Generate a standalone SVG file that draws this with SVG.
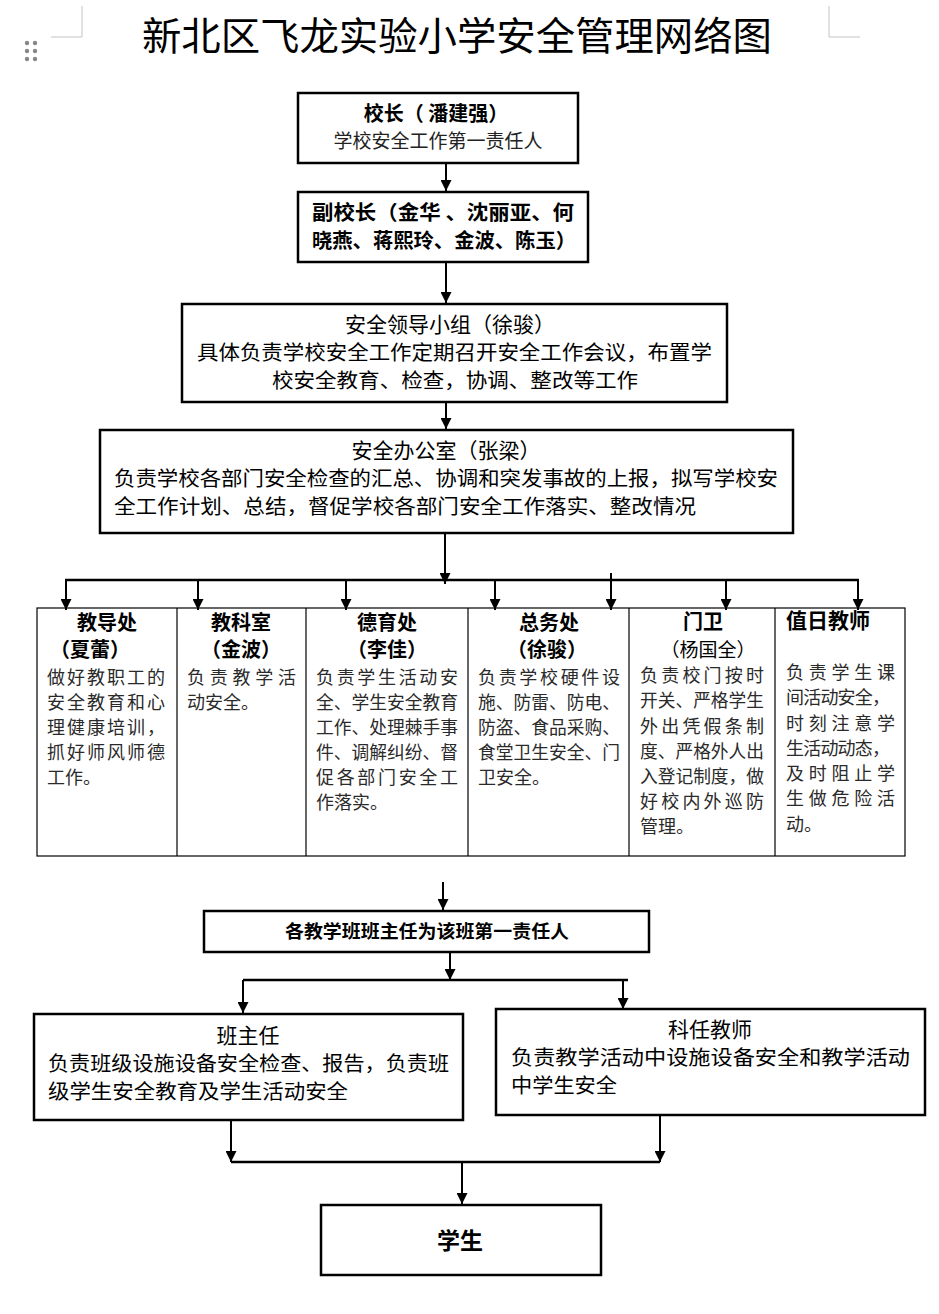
<svg xmlns="http://www.w3.org/2000/svg" width="939" height="1314" viewBox="0 0 939 1314">
<defs>
<marker id="ah" markerUnits="userSpaceOnUse" markerWidth="11" markerHeight="11" viewBox="0 0 11 11" refX="11" refY="5.5" orient="auto">
<path d="M0,0 L11,5.5 L0,11 Z" fill="#000"/>
</marker>
<style>
text{font-family:"Noto Sans CJK SC","Liberation Sans",sans-serif;fill:#000}
.t{font-size:39px}
.h{font-size:20px;font-weight:bold}
.hn{font-size:20px}
.hh{font-size:21px}
.b{font-size:19px;fill:#222}
.d{font-size:18px;fill:#2a2a2a}
.dh{font-size:20px;font-weight:bold}
.box{fill:#fff;stroke:#000;stroke-width:2.5}
.tbl{fill:none;stroke:#000;stroke-width:1.2}
.c{fill:none;stroke:#000;stroke-width:2}
.cb{fill:none;stroke:#000;stroke-width:2.6}
.mid{text-anchor:middle}
.crn{fill:none;stroke:#c4c4c4;stroke-width:1}
</style>
</defs>
<rect width="939" height="1314" fill="#fff"/>
<g id="page-marks">
<path class="crn" d="M82,6 V37 H51"/>
<path class="crn" d="M829,6 V37 H860"/>
<g fill="#888">
<circle cx="27" cy="43" r="2.2"/><circle cx="35" cy="43" r="2.2"/>
<circle cx="27" cy="51" r="2.2"/><circle cx="35" cy="51" r="2.2"/>
<circle cx="27" cy="59" r="2.2"/><circle cx="35" cy="59" r="2.2"/>
</g>
</g>
<g id="title">
<text class="t" x="142" y="50" textLength="630" lengthAdjust="spacingAndGlyphs">新北区飞龙实验小学安全管理网络图</text>
</g>
<g id="connectors">
<line class="c" x1="446" y1="164" x2="446" y2="191" marker-end="url(#ah)"/>
<line class="c" x1="446" y1="263" x2="446" y2="303" marker-end="url(#ah)"/>
<line class="c" x1="446" y1="403" x2="446" y2="429" marker-end="url(#ah)"/>
<line class="c" x1="445" y1="534" x2="445" y2="584" marker-end="url(#ah)"/>
<line class="cb" x1="65" y1="580" x2="859" y2="580"/>
<line class="c" x1="66" y1="580" x2="66" y2="610" marker-end="url(#ah)"/>
<line class="c" x1="198" y1="580" x2="198" y2="610" marker-end="url(#ah)"/>
<line class="c" x1="346" y1="580" x2="346" y2="610" marker-end="url(#ah)"/>
<line class="c" x1="495" y1="580" x2="495" y2="610" marker-end="url(#ah)"/>
<line class="c" x1="611" y1="573" x2="611" y2="610" marker-end="url(#ah)"/>
<line class="c" x1="726" y1="580" x2="726" y2="610" marker-end="url(#ah)"/>
<line class="c" x1="858" y1="580" x2="858" y2="610" marker-end="url(#ah)"/>
<line class="c" x1="443" y1="882" x2="443" y2="910" marker-end="url(#ah)"/>
<line class="c" x1="450" y1="953" x2="450" y2="980" marker-end="url(#ah)"/>
<line class="cb" x1="243" y1="980" x2="628" y2="980"/>
<line class="c" x1="243" y1="980" x2="243" y2="1013" marker-end="url(#ah)"/>
<line class="c" x1="623" y1="980" x2="623" y2="1009" marker-end="url(#ah)"/>
<line class="c" x1="231" y1="1121" x2="231" y2="1162" marker-end="url(#ah)"/>
<line class="c" x1="660" y1="1116" x2="660" y2="1162" marker-end="url(#ah)"/>
<line class="cb" x1="231" y1="1162" x2="660" y2="1162"/>
<line class="c" x1="462" y1="1162" x2="462" y2="1204" marker-end="url(#ah)"/>
</g>
<g id="principal">
<rect class="box" x="298" y="93" width="280" height="70"/>
<text class="h mid" x="436" y="121">校长（ 潘建强）</text>
<text class="b mid" x="438" y="148">学校安全工作第一责任人</text>
</g>
<g id="vice-principals">
<rect class="box" x="298" y="192" width="290" height="70"/>
<text class="h" x="312" y="220" textLength="262" lengthAdjust="spacingAndGlyphs">副校长（金华 、沈丽亚、何</text>
<text class="h" x="312" y="248" textLength="264" lengthAdjust="spacingAndGlyphs">晓燕、蒋熙玲、金波、陈玉）</text>
</g>
<g id="leadership-group">
<rect class="box" x="182" y="304" width="545" height="98"/>
<text class="hh mid" x="450" y="332">安全领导小组（徐骏）</text>
<text class="hn" x="197" y="360" textLength="515" lengthAdjust="spacingAndGlyphs">具体负责学校安全工作定期召开安全工作会议，布置学</text>
<text class="hn" x="272" y="388" textLength="366" lengthAdjust="spacingAndGlyphs">校安全教育、检查，协调、整改等工作</text>
</g>
<g id="safety-office">
<rect class="box" x="100" y="430" width="693" height="103"/>
<text class="hh mid" x="446" y="458">安全办公室（张梁）</text>
<text class="hn" x="114" y="486" textLength="664" lengthAdjust="spacingAndGlyphs">负责学校各部门安全检查的汇总、协调和突发事故的上报，拟写学校安</text>
<text class="hn" x="114" y="514" textLength="582" lengthAdjust="spacingAndGlyphs">全工作计划、总结，督促学校各部门安全工作落实、整改情况</text>
</g>
<g id="departments">
<rect class="tbl" x="37" y="608" width="868" height="248"/>
<line class="tbl" x1="177" y1="608" x2="177" y2="856"/>
<line class="tbl" x1="306" y1="608" x2="306" y2="856"/>
<line class="tbl" x1="468" y1="608" x2="468" y2="856"/>
<line class="tbl" x1="629" y1="608" x2="629" y2="856"/>
<line class="tbl" x1="775" y1="608" x2="775" y2="856"/>
</g>
<g id="dept-jiaodao">
<text class="dh mid" x="107" y="630">教导处</text>
<text class="dh mid" x="90" y="657">（夏蕾）</text>
<text class="d" x="47" y="684" textLength="118" lengthAdjust="spacing">做好教职工的</text>
<text class="d" x="47" y="709" textLength="118" lengthAdjust="spacing">安全教育和心</text>
<text class="d" x="47" y="734" textLength="118" lengthAdjust="spacing">理健康培训，</text>
<text class="d" x="47" y="759" textLength="118" lengthAdjust="spacing">抓好师风师德</text>
<text class="d" x="47" y="784">工作。</text>
</g>
<g id="dept-jiaoke">
<text class="dh mid" x="241" y="630">教科室</text>
<text class="dh mid" x="241" y="657">（金波）</text>
<text class="d" x="187" y="684" textLength="109" lengthAdjust="spacing">负责教学活</text>
<text class="d" x="187" y="709">动安全。</text>
</g>
<g id="dept-deyu">
<text class="dh mid" x="387" y="630">德育处</text>
<text class="dh mid" x="387" y="657">（李佳）</text>
<text class="d" x="316" y="684" textLength="142" lengthAdjust="spacing">负责学生活动安</text>
<text class="d" x="316" y="709" textLength="142" lengthAdjust="spacingAndGlyphs">全、学生安全教育</text>
<text class="d" x="316" y="734" textLength="142" lengthAdjust="spacingAndGlyphs">工作、处理棘手事</text>
<text class="d" x="316" y="759" textLength="142" lengthAdjust="spacingAndGlyphs">件、调解纠纷、督</text>
<text class="d" x="316" y="784" textLength="142" lengthAdjust="spacing">促各部门安全工</text>
<text class="d" x="316" y="809">作落实。</text>
</g>
<g id="dept-zongwu">
<text class="dh mid" x="549" y="630">总务处</text>
<text class="dh mid" x="547" y="657">（徐骏）</text>
<text class="d" x="478" y="684" textLength="142" lengthAdjust="spacing">负责学校硬件设</text>
<text class="d" x="478" y="709" textLength="142" lengthAdjust="spacingAndGlyphs">施、防雷、防电、</text>
<text class="d" x="478" y="734" textLength="142" lengthAdjust="spacingAndGlyphs">防盗、食品采购、</text>
<text class="d" x="478" y="759" textLength="142" lengthAdjust="spacingAndGlyphs">食堂卫生安全、门</text>
<text class="d" x="478" y="784">卫安全。</text>
</g>
<g id="dept-menwei">
<text class="dh mid" x="703" y="629">门卫</text>
<text class="mid" x="708" y="657" style="font-size:19px">（杨国全）</text>
<text class="d" x="640" y="682" textLength="124" lengthAdjust="spacing">负责校门按时</text>
<text class="d" x="640" y="707" textLength="124" lengthAdjust="spacingAndGlyphs">开关、严格学生</text>
<text class="d" x="640" y="733" textLength="124" lengthAdjust="spacing">外出凭假条制</text>
<text class="d" x="640" y="758" textLength="124" lengthAdjust="spacingAndGlyphs">度、严格外人出</text>
<text class="d" x="640" y="783" textLength="124" lengthAdjust="spacingAndGlyphs">入登记制度，做</text>
<text class="d" x="640" y="808" textLength="124" lengthAdjust="spacing">好校内外巡防</text>
<text class="d" x="640" y="833">管理。</text>
</g>
<g id="dept-duty">
<text class="dh" x="786" y="628" style="font-size:21px">值日教师</text>
<text class="d" x="786" y="679" textLength="109" lengthAdjust="spacing">负责学生课</text>
<text class="d" x="786" y="704" textLength="104" lengthAdjust="spacing">间活动安全，</text>
<text class="d" x="786" y="730" textLength="109" lengthAdjust="spacing">时刻注意学</text>
<text class="d" x="786" y="755" textLength="104" lengthAdjust="spacing">生活动动态，</text>
<text class="d" x="786" y="780" textLength="109" lengthAdjust="spacing">及时阻止学</text>
<text class="d" x="786" y="805" textLength="109" lengthAdjust="spacing">生做危险活</text>
<text class="d" x="786" y="831">动。</text>
</g>
<g id="class-head">
<rect class="box" x="204" y="911" width="445" height="41"/>
<text class="mid" x="427" y="938" style="font-size:18px;font-weight:bold" textLength="284" lengthAdjust="spacingAndGlyphs">各教学班班主任为该班第一责任人</text>
</g>
<g id="homeroom-teacher">
<rect class="box" x="34" y="1014" width="429" height="106"/>
<text class="hh mid" x="248" y="1043">班主任</text>
<text class="hn" x="48" y="1071" textLength="401" lengthAdjust="spacingAndGlyphs">负责班级设施设备安全检查、报告，负责班</text>
<text class="hn" x="48" y="1099" textLength="300" lengthAdjust="spacingAndGlyphs">级学生安全教育及学生活动安全</text>
</g>
<g id="subject-teacher">
<rect class="box" x="496" y="1009" width="429" height="106"/>
<text class="hh mid" x="710" y="1037">科任教师</text>
<text class="hn" x="511" y="1065" textLength="399" lengthAdjust="spacingAndGlyphs">负责教学活动中设施设备安全和教学活动</text>
<text class="hn" x="511" y="1093" textLength="106" lengthAdjust="spacingAndGlyphs">中学生安全</text>
</g>
<g id="students">
<rect class="box" x="321" y="1205" width="280" height="70"/>
<text class="mid" x="460" y="1249" style="font-size:23px;font-weight:bold">学生</text>
</g>
</svg>
